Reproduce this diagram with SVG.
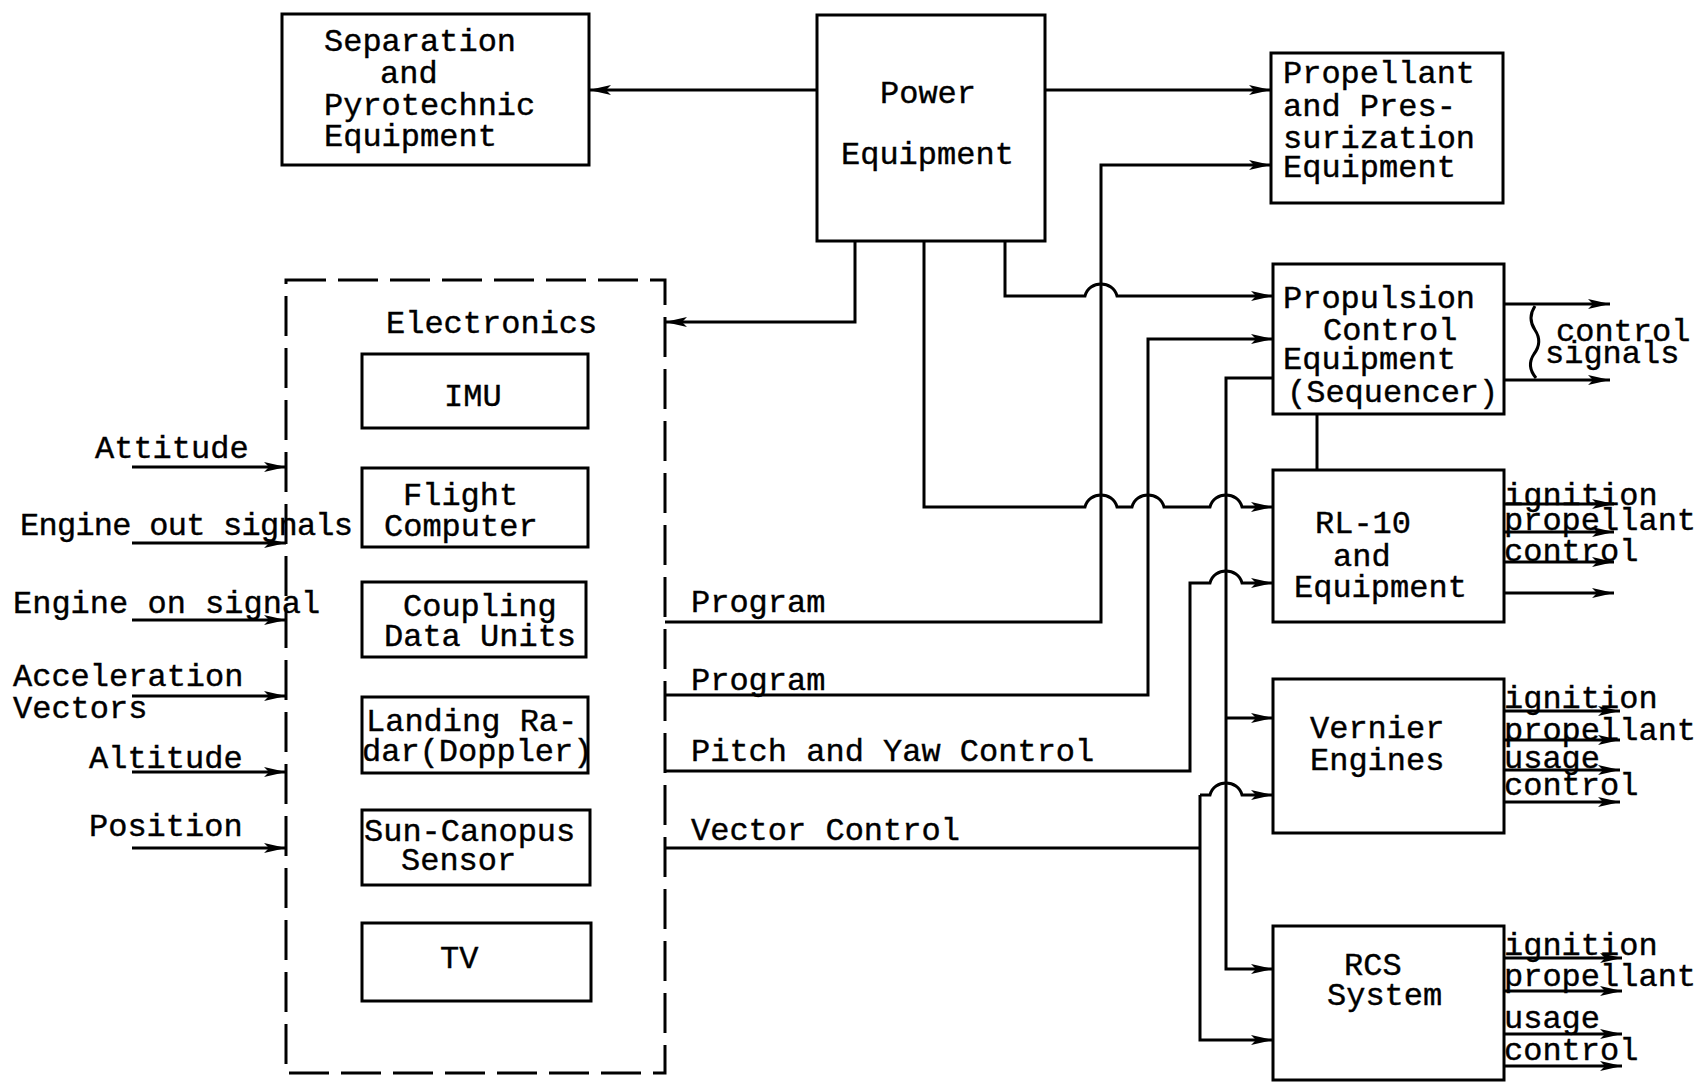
<svg xmlns="http://www.w3.org/2000/svg" width="1703" height="1083" viewBox="0 0 1703 1083">
  <defs>
    <marker id="arrow" markerUnits="userSpaceOnUse" markerWidth="24" markerHeight="12" refX="22" refY="6" orient="auto" viewBox="0 0 24 12">
      <path d="M0,1 L22,6 L0,11 L5,6 z" fill="#000"/>
    </marker>
    <style>
      .box { fill: #fff; stroke: #000; stroke-width: 3; }
      .dash { fill: none; stroke: #000; stroke-width: 3; stroke-dasharray: 40 12; }
      .wire { fill: none; stroke: #000; stroke-width: 3; }
      .arr { marker-end: url(#arrow); }
      text { font-family: "Liberation Mono", "Courier New", monospace; font-size: 32px; fill: #000; stroke: #000; stroke-width: 0.4; }
    </style>
  </defs>
  <rect width="1703" height="1083" fill="#fff"/>

  <!-- wiring between units -->
  <g id="connectors">
    <!-- power distribution -->
    <path class="wire arr" d="M817 90 H589"/>
    <path class="wire arr" d="M1045 90 H1271"/>
    <path class="wire arr" d="M855 241 V322 H665"/>
    <path class="wire arr" d="M1005 241 V296 H1085 C1089 280 1113 280 1117 296 H1273"/>
    <path class="wire arr" d="M924 241 V507 H1085 C1089 491 1113 491 1117 507 H1132 C1136 491 1160 491 1164 507 H1210 C1214 491 1238 491 1242 507 H1273"/>
    <!-- program lines from electronics -->
    <path class="wire arr" d="M665 622 H1101 V165 H1271"/>
    <path class="wire arr" d="M665 695 H1148 V339 H1273"/>
    <!-- sequencer bus -->
    <path class="wire arr" d="M1273 378 H1226 V969 H1273"/>
    <path class="wire arr" d="M1226 718 H1273"/>
    <path class="wire" d="M1317 414 V470"/>
    <!-- pitch and yaw control -->
    <path class="wire arr" d="M665 771 H1190 V583 H1210 C1214 567 1238 567 1242 583 H1273"/>
    <!-- vector control -->
    <path class="wire" d="M665 848 H1200"/>
    <path class="wire arr" d="M1200 795 V1040 H1273"/>
    <path class="wire arr" d="M1200 795 H1210 C1214 779 1238 779 1242 795 H1273"/>

    <!-- sensor inputs to electronics -->
    <path class="wire arr" d="M132 467 H286"/>
    <path class="wire arr" d="M132 543 H286"/>
    <path class="wire arr" d="M132 620 H286"/>
    <path class="wire arr" d="M132 696 H286"/>
    <path class="wire arr" d="M132 772 H286"/>
    <path class="wire arr" d="M132 848 H286"/>

    <!-- sequencer outputs -->
    <path class="wire arr" d="M1504 304 H1610"/>
    <path class="wire arr" d="M1504 380 H1610"/>
    <path class="wire" stroke-width="2.5" d="M1535 306 Q1527 318 1535 330 Q1543 342 1534 354 Q1526 366 1536 378"/>

    <!-- RL-10 outputs -->
    <path class="wire arr" d="M1504 504 H1614"/>
    <path class="wire arr" d="M1504 532 H1614"/>
    <path class="wire arr" d="M1504 562 H1614"/>
    <path class="wire arr" d="M1504 593 H1614"/>

    <!-- vernier outputs -->
    <path class="wire arr" d="M1504 711 H1620"/>
    <path class="wire arr" d="M1504 740 H1620"/>
    <path class="wire arr" d="M1504 770 H1620"/>
    <path class="wire arr" d="M1504 802 H1620"/>

    <!-- RCS outputs -->
    <path class="wire arr" d="M1504 958 H1622"/>
    <path class="wire arr" d="M1504 991 H1622"/>
    <path class="wire arr" d="M1504 1034 H1622"/>
    <path class="wire arr" d="M1504 1066 H1622"/>
  </g>

  <!-- signal labels -->
  <g id="labels">
    <text x="95" y="458">Attitude</text>
    <text x="20" y="535" textLength="333" lengthAdjust="spacing">Engine out signals</text>
    <text x="13" y="613">Engine on signal</text>
    <text x="13" y="686">Acceleration</text>
    <text x="13" y="718">Vectors</text>
    <text x="89" y="768">Altitude</text>
    <text x="89" y="836">Position</text>

    <text x="691" y="612">Program</text>
    <text x="691" y="690">Program</text>
    <text x="691" y="761">Pitch and Yaw Control</text>
    <text x="691" y="840">Vector Control</text>

    <text x="1556" y="341">control</text>
    <text x="1545" y="363">signals</text>

    <text x="1504" y="505">ignition</text>
    <text x="1504" y="530">propellant</text>
    <text x="1504" y="561">control</text>

    <text x="1504" y="708">ignition</text>
    <text x="1504" y="740">propellant</text>
    <text x="1504" y="768">usage</text>
    <text x="1504" y="795">control</text>

    <text x="1504" y="955">ignition</text>
    <text x="1504" y="986">propellant</text>
    <text x="1504" y="1028">usage</text>
    <text x="1504" y="1060">control</text>
  </g>

  <g id="separation">
    <rect class="box" x="282" y="14" width="307" height="151"/>
    <text x="324" y="51">Separation</text>
    <text x="380" y="83">and</text>
    <text x="324" y="115">Pyrotechnic</text>
    <text x="324" y="146">Equipment</text>
  </g>

  <g id="power">
    <rect class="box" x="817" y="15" width="228" height="226"/>
    <text x="880" y="103">Power</text>
    <text x="841" y="164">Equipment</text>
  </g>

  <g id="propellant">
    <rect class="box" x="1271" y="53" width="232" height="150"/>
    <text x="1283" y="83">Propellant</text>
    <text x="1283" y="116">and Pres-</text>
    <text x="1283" y="148">surization</text>
    <text x="1283" y="177">Equipment</text>
  </g>

  <g id="propulsion-control">
    <rect class="box" x="1273" y="264" width="231" height="150"/>
    <text x="1283" y="308">Propulsion</text>
    <text x="1323" y="340">Control</text>
    <text x="1283" y="369">Equipment</text>
    <text x="1287" y="402">(Sequencer)</text>
  </g>

  <g id="rl10">
    <rect class="box" x="1273" y="470" width="231" height="152"/>
    <text x="1315" y="533">RL-10</text>
    <text x="1333" y="566">and</text>
    <text x="1294" y="597">Equipment</text>
  </g>

  <g id="vernier">
    <rect class="box" x="1273" y="679" width="231" height="154"/>
    <text x="1310" y="738">Vernier</text>
    <text x="1310" y="770">Engines</text>
  </g>

  <g id="rcs">
    <rect class="box" x="1273" y="926" width="231" height="154"/>
    <text x="1344" y="975">RCS</text>
    <text x="1327" y="1005">System</text>
  </g>

  <g id="electronics">
    <rect class="dash" x="286" y="280" width="379" height="793"/>
    <text x="386" y="333">Electronics</text>
  </g>

  <g id="imu">
    <rect class="box" x="362" y="354" width="226" height="74"/>
    <text x="444" y="406">IMU</text>
  </g>

  <g id="flight-computer">
    <rect class="box" x="362" y="468" width="226" height="79"/>
    <text x="403" y="505">Flight</text>
    <text x="384" y="536">Computer</text>
  </g>

  <g id="coupling-data-units">
    <rect class="box" x="362" y="582" width="224" height="75"/>
    <text x="403" y="616">Coupling</text>
    <text x="384" y="646">Data Units</text>
  </g>

  <g id="landing-radar">
    <rect class="box" x="362" y="697" width="226" height="76"/>
    <text x="366" y="731">Landing Ra-</text>
    <text x="362" y="761">dar(Doppler)</text>
  </g>

  <g id="sun-canopus">
    <rect class="box" x="362" y="810" width="228" height="75"/>
    <text x="364" y="841">Sun-Canopus</text>
    <text x="401" y="870">Sensor</text>
  </g>

  <g id="tv">
    <rect class="box" x="362" y="923" width="229" height="78"/>
    <text x="440" y="968">TV</text>
  </g>
</svg>
